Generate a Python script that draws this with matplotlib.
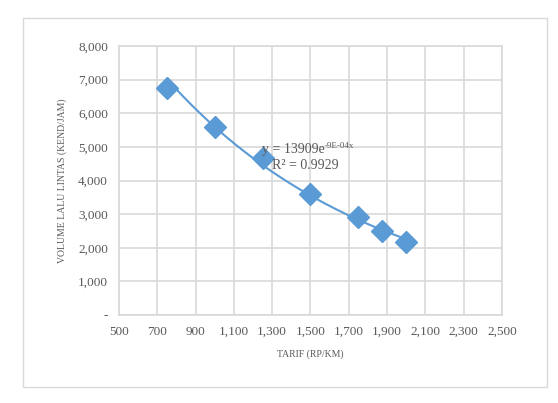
import numpy as np
import matplotlib.pyplot as plt
from matplotlib.patches import Rectangle

plt.rcParams['font.family'] = ['Liberation Serif', 'DejaVu Serif']

# data
tarif = [750, 1000, 1250, 1500, 1750, 1875, 2000]
volume = [6750, 5600, 4680, 3600, 2900, 2500, 2170]

xticks = [500, 700, 900, 1100, 1300, 1500, 1700, 1900, 2100, 2300, 2500]
yticks = [0, 1000, 2000, 3000, 4000, 5000, 6000, 7000, 8000]

blue = "#5b9bd5"
grey = "#595959"

fig = plt.figure(figsize=(5.58, 4.03), dpi=100)
fig.patches.append(Rectangle((23/558, 1-387/403), (547-23)/558, (387-18)/403,
                             transform=fig.transFigure, fill=False,
                             edgecolor="#d9d9d9", linewidth=1.0))
ax = fig.add_axes([119/558, 1-315/403, (502-119)/558, (315-46)/403])

# exponential trendline fitted to the points
b, ln_a = np.polyfit(tarif, np.log(volume), 1)
xs = np.linspace(min(tarif), max(tarif), 200)
ax.plot(xs, np.exp(ln_a) * np.exp(b * xs), color=blue, linewidth=1.5, zorder=2)
ax.plot(tarif, volume, linestyle="none", marker="D", markersize=11,
        color=blue, zorder=3)

eq = ax.text(1245, 4910, "y = 13909e", fontsize=10, color=grey, va="center",
             zorder=4)
ax.annotate("-9E-04x", xy=(1, 0.5), xycoords=eq, xytext=(0, 0),
            textcoords="offset points", fontsize=6.5, color=grey,
            va="bottom", ha="left", zorder=4)
ax.text(1300, 4450, "R² = 0.9929", fontsize=10, color=grey, va="center",
        zorder=4)

ax.set_xlim(500, 2500)
ax.set_ylim(0, 8000)
ax.set_xticks(xticks)
ax.set_yticks(yticks)
ax.set_xticklabels([f"{v:,}" for v in xticks])
ax.set_yticklabels(["-"] + [f"{v:,}" for v in yticks[1:]])
ax.tick_params(length=0, labelsize=9.5, labelcolor=grey, pad=8)
ax.grid(True, color="#d9d9d9", linewidth=1.2)
ax.set_axisbelow(True)
for s in ax.spines.values():
    s.set_color("#d9d9d9")
    s.set_linewidth(1.2)

ax.set_xlabel("TARIF (RP/KM)", fontsize=7, color=grey, labelpad=8)
ax.set_ylabel("VOLUME LALU LINTAS (KEND/JAM)", fontsize=7, color=grey,
              labelpad=8)

fig.savefig("out.png", dpi=100)
